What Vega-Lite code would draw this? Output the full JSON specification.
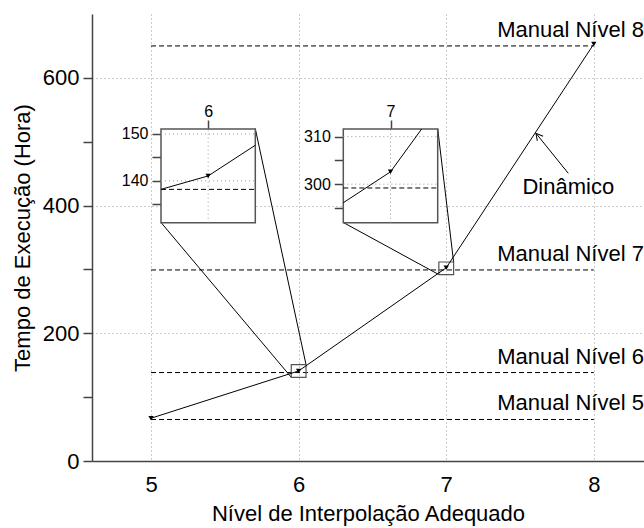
{
  "$schema": "https://vega.github.io/schema/vega-lite/v6.json",
  "width": 552,
  "height": 447,
  "autosize": {"type": "none"},
  "padding": {"left": 92, "top": 14, "right": 0, "bottom": 67},
  "background": "white",
  "config": {
    "view": {"stroke": null},
    "font": "Liberation Sans",
    "axis": {
      "domainColor": "#444", "domainWidth": 1.5,
      "tickColor": "#444", "tickWidth": 1.5,
      "labelFont": "Liberation Sans", "labelColor": "#000",
      "titleFont": "Liberation Sans", "titleFontWeight": "normal", "titleColor": "#000",
      "gridColor": "#999", "gridDash": [1, 3], "gridWidth": 1
    }
  },
  "datasets": {
    "manual": [
      {"nome": "Manual Nível 5", "t": 65, "x0": 5, "x1": 8, "lx": 7.345},
      {"nome": "Manual Nível 6", "t": 138.5, "x0": 5, "x1": 8, "lx": 7.345},
      {"nome": "Manual Nível 7", "t": 299.2, "x0": 5, "x1": 8, "lx": 7.345},
      {"nome": "Manual Nível 8", "t": 650, "x0": 5, "x1": 8, "lx": 7.345}
    ],
    "dinamico": [
      {"n": 5, "t": 67},
      {"n": 6, "t": 141},
      {"n": 7, "t": 302.6},
      {"n": 8, "t": 653}
    ],
    "squares": [
      {"x0": 5.95, "x1": 6.05, "y0": 131.1, "y1": 151.06},
      {"x0": 6.95, "x1": 7.05, "y0": 291.9, "y1": 311.6}
    ],
    "connectors": [
      {"x0": 5.0675, "y0": 373.5, "x1": 5.95, "y1": 131.1},
      {"x0": 5.7064, "y0": 520.4, "x1": 6.05, "y1": 151.06},
      {"x0": 6.3026, "y0": 373.5, "x1": 6.95, "y1": 291.9},
      {"x0": 6.9422, "y0": 520.4, "x1": 7.05, "y1": 311.6}
    ],
    "label": [{"texto": "Dinâmico", "x": 7.827, "y": 429.5}],
    "arrow": [{"x0": 7.827, "y0": 450.5, "x1": 7.608, "y1": 513.2}],
    "in6box": [{"x0": 5.95, "x1": 6.05, "y0": 131.1, "y1": 151.06}],
    "in6gx": [{"x": 6, "y0": 131.1, "y1": 151.06}],
    "in6gy": [{"y": 140, "x0": 5.95, "x1": 6.05}, {"y": 150, "x0": 5.95, "x1": 6.05}],
    "in6man": [{"y": 138.2, "x0": 5.95, "x1": 6.05}],
    "in6line": [{"x": 5.95, "y": 138.2}, {"x": 6, "y": 141.06}, {"x": 6.05, "y": 147.6}],
    "in6pt": [{"x": 6, "y": 141.06}],
    "in7box": [{"x0": 6.95, "x1": 7.05, "y0": 291.9, "y1": 311.6}],
    "in7gx": [{"x": 7, "y0": 291.9, "y1": 311.6}],
    "in7gy": [{"y": 300, "x0": 6.95, "x1": 7.05}, {"y": 310, "x0": 6.95, "x1": 7.05}],
    "in7man": [{"y": 299.2, "x0": 6.95, "x1": 7.05}],
    "in7line": [{"x": 6.95, "y": 296.1}, {"x": 7, "y": 302.6}, {"x": 7.033, "y": 311.6}],
    "in7pt": [{"x": 7, "y": 302.6}]
  },
  "layer": [
    {
      "layer": [
        {
          "data": {"name": "manual"},
          "mark": {"type": "rule", "color": "#000", "strokeWidth": 1, "strokeDash": [5, 3]},
          "encoding": {
            "x": {"field": "x0", "type": "quantitative",
              "scale": {"domain": [4.6, 8.34], "nice": false, "zero": false},
              "axis": {"orient": "bottom", "title": "Nível de Interpolação Adequado",
                "values": [5, 5.5, 6, 6.5, 7, 7.5, 8], "format": "d",
                "labelExpr": "datum.value % 1 === 0 ? datum.label : ''",
                "labelFontSize": 22, "labelPadding": 7, "tickSize": 6,
                "tickOpacity": {"condition": {"test": "datum.value % 1 === 0", "value": 0}, "value": 1},
                "grid": true,
                "gridOpacity": {"condition": {"test": "datum.value % 1 === 0", "value": 1}, "value": 0},
                "titleFontSize": 22, "titlePadding": 8}},
            "x2": {"field": "x1"},
            "y": {"field": "t", "type": "quantitative",
              "scale": {"domain": [0, 700], "nice": false},
              "axis": {"orient": "left", "title": "Tempo de Execução (Hora)",
                "values": [0, 100, 200, 300, 400, 500, 600], "format": "d",
                "labelExpr": "datum.value % 200 === 0 ? datum.label : ''",
                "labelFontSize": 22, "labelPadding": 4, "tickSize": 9,
                "grid": true,
                "gridOpacity": {"condition": {"test": "datum.value % 200 === 0 && datum.value > 0", "value": 1}, "value": 0},
                "titleFontSize": 22, "titlePadding": 8}}
          }
        },
        {
          "mark": {"type": "rule", "color": "#444", "strokeWidth": 1.5},
          "encoding": {"y": {"datum": 700, "type": "quantitative"}}
        },
        {
          "data": {"name": "manual"},
          "mark": {"type": "text", "align": "left", "baseline": "middle", "dy": -16, "fontSize": 22, "font": "Liberation Sans", "color": "#000"},
          "encoding": {
            "x": {"field": "lx", "type": "quantitative"},
            "y": {"field": "t", "type": "quantitative"},
            "text": {"field": "nome"}
          }
        },
        {
          "data": {"name": "connectors"},
          "mark": {"type": "rule", "color": "#000", "strokeWidth": 1},
          "encoding": {
            "x": {"field": "x0", "type": "quantitative"},
            "y": {"field": "y0", "type": "quantitative"},
            "x2": {"field": "x1"},
            "y2": {"field": "y1"}
          }
        },
        {
          "data": {"name": "squares"},
          "mark": {"type": "rect", "fill": null, "fillOpacity": 0, "stroke": "#555", "strokeWidth": 1.2},
          "encoding": {
            "x": {"field": "x0", "type": "quantitative"},
            "x2": {"field": "x1"},
            "y": {"field": "y0", "type": "quantitative"},
            "y2": {"field": "y1"}
          }
        },
        {
          "data": {"name": "dinamico"},
          "mark": {"type": "line", "color": "#000", "strokeWidth": 1},
          "encoding": {
            "x": {"field": "n", "type": "quantitative"},
            "y": {"field": "t", "type": "quantitative"}
          }
        },
        {
          "data": {"name": "dinamico"},
          "mark": {"type": "point", "shape": "triangle-down", "filled": true, "color": "#000", "size": 28, "opacity": 1},
          "encoding": {
            "x": {"field": "n", "type": "quantitative"},
            "y": {"field": "t", "type": "quantitative"}
          }
        },
        {
          "data": {"name": "arrow"},
          "mark": {"type": "rule", "color": "#000", "strokeWidth": 1},
          "encoding": {
            "x": {"field": "x0", "type": "quantitative"},
            "y": {"field": "y0", "type": "quantitative"},
            "x2": {"field": "x1"},
            "y2": {"field": "y1"}
          }
        },
        {
          "data": {"name": "arrow"},
          "mark": {"type": "point", "shape": "M -0.55 1 L 0 0 L 0.55 1", "filled": false, "stroke": "#000", "strokeWidth": 1, "size": 180, "angle": 321, "opacity": 1},
          "encoding": {
            "x": {"field": "x1", "type": "quantitative"},
            "y": {"field": "y1", "type": "quantitative"}
          }
        },
        {
          "data": {"name": "label"},
          "mark": {"type": "text", "align": "center", "baseline": "middle", "fontSize": 22, "font": "Liberation Sans", "color": "#000"},
          "encoding": {
            "x": {"field": "x", "type": "quantitative"},
            "y": {"field": "y", "type": "quantitative"},
            "text": {"field": "texto"}
          }
        }
      ]
    },
    {
      "layer": [
        {
          "data": {"name": "in6box"},
          "mark": {"type": "rect", "fill": "white", "stroke": "#555", "strokeWidth": 1.5},
          "encoding": {
            "x": {"field": "x0", "type": "quantitative",
              "scale": {"domain": [5.95, 6.05], "range": [69, 163.3], "nice": false, "zero": false},
              "axis": {"orient": "top", "title": null, "values": [6], "format": "d", "offset": -115, "domain": false,
                "tickSize": 9, "labelFontSize": 16, "labelPadding": 1, "grid": false}},
            "x2": {"field": "x1"},
            "y": {"field": "y0", "type": "quantitative",
              "scale": {"domain": [131.1, 151.06], "range": [208.7, 115], "nice": false, "zero": false},
              "axis": {"orient": "left", "title": null, "values": [135, 140, 145, 150], "format": "d", "offset": -69, "domain": false,
                "labelExpr": "datum.value % 10 === 0 ? datum.label : ''",
                "tickSize": 9, "labelFontSize": 16, "labelPadding": 4, "grid": false}},
            "y2": {"field": "y1"}
          }
        },
        {
          "data": {"name": "in6gx"},
          "mark": {"type": "rule", "color": "#999", "strokeWidth": 1, "strokeDash": [1, 3]},
          "encoding": {
            "x": {"field": "x", "type": "quantitative", "title": null},
            "y": {"field": "y0", "type": "quantitative", "title": null},
            "y2": {"field": "y1"}
          }
        },
        {
          "data": {"name": "in6gy"},
          "mark": {"type": "rule", "color": "#999", "strokeWidth": 1, "strokeDash": [1, 3]},
          "encoding": {
            "x": {"field": "x0", "type": "quantitative", "title": null},
            "x2": {"field": "x1"},
            "y": {"field": "y", "type": "quantitative", "title": null}
          }
        },
        {
          "data": {"name": "in6man"},
          "mark": {"type": "rule", "color": "#000", "strokeWidth": 1, "strokeDash": [5, 3]},
          "encoding": {
            "x": {"field": "x0", "type": "quantitative", "title": null},
            "x2": {"field": "x1"},
            "y": {"field": "y", "type": "quantitative", "title": null}
          }
        },
        {
          "data": {"name": "in6line"},
          "mark": {"type": "line", "color": "#000", "strokeWidth": 1},
          "encoding": {
            "x": {"field": "x", "type": "quantitative", "title": null},
            "y": {"field": "y", "type": "quantitative", "title": null}
          }
        },
        {
          "data": {"name": "in6pt"},
          "mark": {"type": "point", "shape": "triangle-down", "filled": true, "color": "#000", "size": 28, "opacity": 1},
          "encoding": {
            "x": {"field": "x", "type": "quantitative", "title": null},
            "y": {"field": "y", "type": "quantitative", "title": null}
          }
        }
      ]
    },
    {
      "layer": [
        {
          "data": {"name": "in7box"},
          "mark": {"type": "rect", "fill": "white", "stroke": "#555", "strokeWidth": 1.5},
          "encoding": {
            "x": {"field": "x0", "type": "quantitative",
              "scale": {"domain": [6.95, 7.05], "range": [251.3, 345.7], "nice": false, "zero": false},
              "axis": {"orient": "top", "title": null, "values": [7], "format": "d", "offset": -115, "domain": false,
                "tickSize": 9, "labelFontSize": 16, "labelPadding": 1, "grid": false}},
            "x2": {"field": "x1"},
            "y": {"field": "y0", "type": "quantitative",
              "scale": {"domain": [291.9, 311.6], "range": [208.7, 115], "nice": false, "zero": false},
              "axis": {"orient": "left", "title": null, "values": [295, 300, 305, 310], "format": "d", "offset": -251.3, "domain": false,
                "labelExpr": "datum.value % 10 === 0 ? datum.label : ''",
                "tickSize": 9, "labelFontSize": 16, "labelPadding": 4, "grid": false}},
            "y2": {"field": "y1"}
          }
        },
        {
          "data": {"name": "in7gx"},
          "mark": {"type": "rule", "color": "#999", "strokeWidth": 1, "strokeDash": [1, 3]},
          "encoding": {
            "x": {"field": "x", "type": "quantitative", "title": null},
            "y": {"field": "y0", "type": "quantitative", "title": null},
            "y2": {"field": "y1"}
          }
        },
        {
          "data": {"name": "in7gy"},
          "mark": {"type": "rule", "color": "#999", "strokeWidth": 1, "strokeDash": [1, 3]},
          "encoding": {
            "x": {"field": "x0", "type": "quantitative", "title": null},
            "x2": {"field": "x1"},
            "y": {"field": "y", "type": "quantitative", "title": null}
          }
        },
        {
          "data": {"name": "in7man"},
          "mark": {"type": "rule", "color": "#000", "strokeWidth": 1, "strokeDash": [5, 3]},
          "encoding": {
            "x": {"field": "x0", "type": "quantitative", "title": null},
            "x2": {"field": "x1"},
            "y": {"field": "y", "type": "quantitative", "title": null}
          }
        },
        {
          "data": {"name": "in7line"},
          "mark": {"type": "line", "color": "#000", "strokeWidth": 1},
          "encoding": {
            "x": {"field": "x", "type": "quantitative", "title": null},
            "y": {"field": "y", "type": "quantitative", "title": null}
          }
        },
        {
          "data": {"name": "in7pt"},
          "mark": {"type": "point", "shape": "triangle-down", "filled": true, "color": "#000", "size": 28, "opacity": 1},
          "encoding": {
            "x": {"field": "x", "type": "quantitative", "title": null},
            "y": {"field": "y", "type": "quantitative", "title": null}
          }
        }
      ]
    }
  ],
  "resolve": {
    "scale": {"x": "independent", "y": "independent"},
    "axis": {"x": "independent", "y": "independent"}
  }
}
